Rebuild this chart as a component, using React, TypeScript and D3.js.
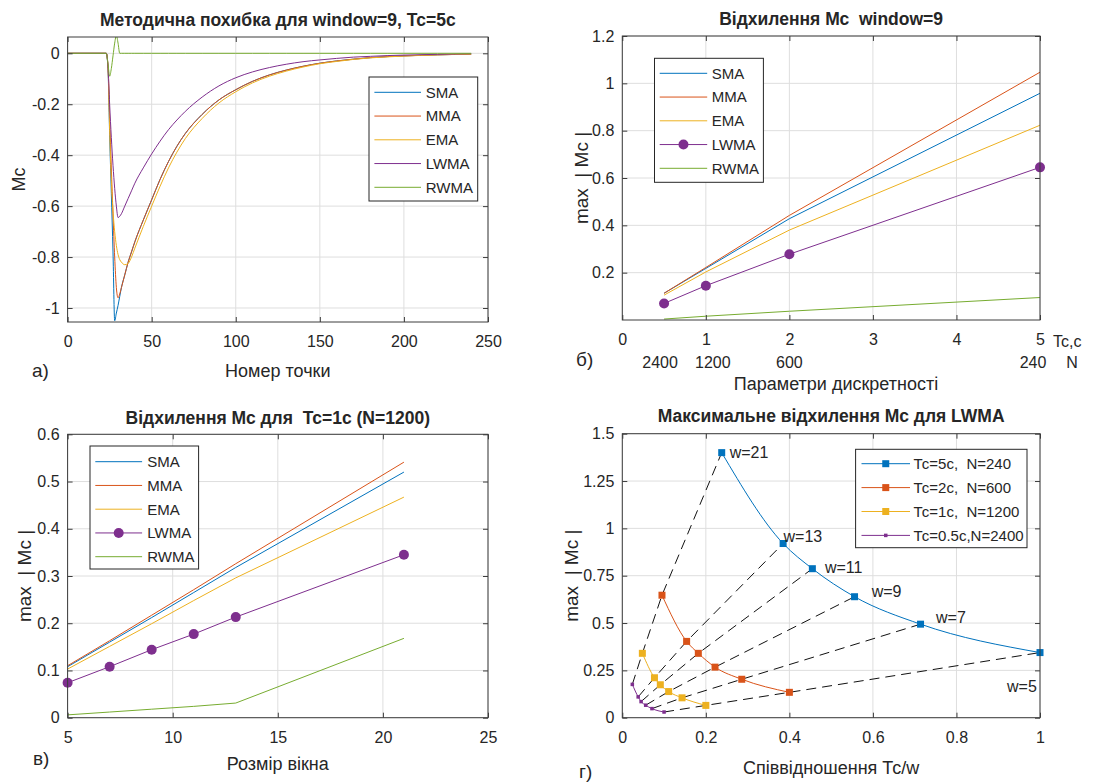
import React, { useEffect, useRef } from "react";
import * as d3 from "d3";

// ---------- a) Методична похибка для window=9, Тс=5с ----------
const aIndex = [0, 23, 24, 25, 26, 27, 28, 29, 30, 31, 32, 34, 36, 38, 40, 45, 50, 55, 60, 65, 70, 80, 90, 100, 110, 120, 130, 140, 150, 160, 170, 180, 190, 200, 220, 240];
const aSMA = [0, 0, -0.06, -0.32, -0.55, -0.78, -1.05, -1.02, -0.99, -0.955, -0.92, -0.87, -0.82, -0.78, -0.74, -0.655, -0.575, -0.495, -0.425, -0.365, -0.315, -0.24, -0.183, -0.143, -0.11, -0.085, -0.066, -0.051, -0.039, -0.03, -0.023, -0.017, -0.013, -0.01, -0.006, -0.003];
const aMMA = [0, 0, -0.05, -0.25, -0.45, -0.63, -0.8, -0.92, -0.96, -0.945, -0.92, -0.87, -0.82, -0.78, -0.74, -0.655, -0.575, -0.495, -0.425, -0.365, -0.315, -0.24, -0.183, -0.143, -0.11, -0.085, -0.066, -0.051, -0.039, -0.03, -0.023, -0.017, -0.013, -0.01, -0.006, -0.003];
const aEMA = [0, 0, -0.05, -0.3, -0.5, -0.62, -0.7, -0.755, -0.79, -0.81, -0.82, -0.83, -0.825, -0.8, -0.765, -0.68, -0.6, -0.522, -0.45, -0.388, -0.335, -0.256, -0.195, -0.151, -0.116, -0.09, -0.07, -0.054, -0.041, -0.032, -0.024, -0.018, -0.014, -0.011, -0.006, -0.004];
const aLWMA = [0, 0, -0.05, -0.2, -0.33, -0.44, -0.53, -0.6, -0.645, -0.64, -0.63, -0.6, -0.57, -0.54, -0.51, -0.45, -0.395, -0.345, -0.3, -0.262, -0.228, -0.172, -0.128, -0.096, -0.073, -0.056, -0.043, -0.033, -0.026, -0.02, -0.015, -0.012, -0.009, -0.007, -0.004, -0.002];
const aRWMA = [0, 0, -0.04, -0.09, -0.06, -0.01, 0.04, 0.07, 0.04, 0, 0, 0, 0, 0, 0, 0, 0, 0, 0, 0, 0, 0, 0, 0, 0, 0, 0, 0, 0, 0, 0, 0, 0, 0, 0, 0];
const aXTicks = [0, 50, 100, 150, 200, 250];
const aYTicks = [-1, -0.8, -0.6, -0.4, -0.2, 0];

// ---------- б) Відхилення Мс window=9 ----------
const bTc = [0.5, 1, 2, 5];
const bN = ["2400", "1200", "600", "240"];
const bSMA = [0.113, 0.218, 0.428, 0.958];
const bMMA = [0.113, 0.222, 0.442, 1.047];
const bEMA = [0.105, 0.203, 0.38, 0.823];
const bLWMA = [0.07, 0.145, 0.278, 0.645];
const bRWMA = [0.004, 0.016, 0.037, 0.095];
const bXTicks = [0, 1, 2, 3, 4, 5];
const bYTicks = [0.2, 0.4, 0.6, 0.8, 1, 1.2];

// ---------- в) Відхилення Мс для Тс=1с (N=1200) ----------
const cWin = [5, 7, 9, 11, 13, 21];
const cSMA = [0.108, 0.16, 0.212, 0.265, 0.318, 0.52];
const cMMA = [0.11, 0.163, 0.217, 0.271, 0.326, 0.541];
const cEMA = [0.103, 0.151, 0.199, 0.248, 0.296, 0.467];
const cLWMA = [0.074, 0.108, 0.144, 0.177, 0.213, 0.345];
const cRWMA = [0.006, 0.012, 0.018, 0.024, 0.031, 0.168];
const cXTicks = [5, 10, 15, 20, 25];
const cYTicks = [0, 0.1, 0.2, 0.3, 0.4, 0.5, 0.6];

// ---------- г) Максимальне відхилення Мс для LWMA ----------
const dWin = ["w=21", "w=13", "w=11", "w=9", "w=7", "w=5"];
const dX5 = [0.238, 0.385, 0.455, 0.556, 0.714, 1.0];
const dY5 = [1.4, 0.92, 0.787, 0.639, 0.494, 0.344];
const dX2 = [0.095, 0.154, 0.182, 0.222, 0.286, 0.4];
const dY2 = [0.647, 0.403, 0.34, 0.267, 0.203, 0.134];
const dX1 = [0.048, 0.077, 0.091, 0.111, 0.143, 0.2];
const dY1 = [0.34, 0.211, 0.174, 0.138, 0.105, 0.065];
const dX05 = [0.024, 0.038, 0.045, 0.056, 0.071, 0.1];
const dY05 = [0.176, 0.11, 0.085, 0.066, 0.048, 0.03];
const dLabelX = [0.257, 0.386, 0.485, 0.597, 0.751, 0.921];
const dLabelY = [1.4, 0.96, 0.796, 0.666, 0.528, 0.167];
const dXTicks = [0, 0.2, 0.4, 0.6, 0.8, 1];
const dYTicks = [0, 0.25, 0.5, 0.75, 1, 1.25, 1.5];

const FONT = "'Liberation Sans', Arial, Helvetica, sans-serif";
const COL = { sma: "#0072BD", mma: "#D95319", ema: "#EDB120", lwma: "#7E2F8E", rwma: "#77AC30" };
const AXIS = "#3c3c3c";
const GRID = "#dedede";
const TXT = "#262626";
// small horizontal nudges of the N row under panel б (px)
const bNShift = [-4, 7, 0, -7];

type Box = { left: number; top: number; right: number; bottom: number };
type Row = { label: string; color: string; marker?: string };

function grid(svg: any, id: string, box: Box, x: any, y: any, xt: number[], yt: number[]) {
  svg.select("defs").append("clipPath").attr("id", id).append("rect")
    .attr("x", box.left).attr("y", box.top)
    .attr("width", box.right - box.left).attr("height", box.bottom - box.top);
  const g = svg.append("g");
  g.selectAll(".gx").data(xt).join("line")
    .attr("x1", (d: number) => x(d)).attr("x2", (d: number) => x(d))
    .attr("y1", box.top).attr("y2", box.bottom).attr("stroke", GRID);
  g.selectAll(".gy").data(yt).join("line")
    .attr("y1", (d: number) => y(d)).attr("y2", (d: number) => y(d))
    .attr("x1", box.left).attr("x2", box.right).attr("stroke", GRID);
}

function frame(svg: any, box: Box, x: any, y: any, xt: number[], yt: number[]) {
  const g = svg.append("g").attr("color", AXIS);
  const style = (s: any) => {
    s.select(".domain").remove();
    s.selectAll("text").attr("font-size", 16).attr("font-family", FONT).attr("fill", TXT);
  };
  g.append("g").attr("transform", `translate(0,${box.bottom})`)
    .call(d3.axisBottom(x).tickValues(xt).tickSize(-5).tickPadding(14).tickFormat((d: any) => String(d))).call(style);
  g.append("g").attr("transform", `translate(0,${box.top})`)
    .call(d3.axisTop(x).tickValues(xt).tickSize(-5).tickFormat(() => "")).call(style);
  g.append("g").attr("transform", `translate(${box.left},0)`)
    .call(d3.axisLeft(y).tickValues(yt).tickSize(-5).tickPadding(8).tickFormat((d: any) => String(d))).call(style);
  g.append("g").attr("transform", `translate(${box.right},0)`)
    .call(d3.axisRight(y).tickValues(yt).tickSize(-5).tickFormat(() => "")).call(style);
  g.append("rect").attr("x", box.left).attr("y", box.top)
    .attr("width", box.right - box.left).attr("height", box.bottom - box.top)
    .attr("fill", "none").attr("stroke", AXIS);
}

function series(svg: any, clip: string, xs: number[], ys: number[], x: any, y: any, color: string, curve: any = d3.curveLinear, dash = "") {
  const line = d3.line<number>().x((_, i) => x(xs[i])).y((d) => y(d)).curve(curve);
  svg.append("path").attr("d", line(ys)).attr("fill", "none").attr("stroke", color)
    .attr("stroke-width", 1).attr("stroke-dasharray", dash || null)
    .attr("clip-path", `url(#${clip})`);
}

function markers(svg: any, xs: number[], ys: number[], x: any, y: any, color: string, kind: string) {
  const g = svg.append("g");
  xs.forEach((v, i) => marker(g, x(v), y(ys[i]), color, kind));
}

function marker(g: any, cx: number, cy: number, color: string, kind: string) {
  if (kind === "circle") {
    g.append("circle").attr("cx", cx).attr("cy", cy).attr("r", 5).attr("fill", color);
  } else {
    const s = kind === "dot" ? 3.5 : 7;
    g.append("rect").attr("x", cx - s / 2).attr("y", cy - s / 2).attr("width", s).attr("height", s).attr("fill", color);
  }
}

function legend(svg: any, x0: number, y0: number, w: number, h: number, rows: Row[], first: number, step: number, l1: number, l2: number, tx: number) {
  const g = svg.append("g");
  g.append("rect").attr("x", x0).attr("y", y0).attr("width", w).attr("height", h)
    .attr("fill", "#fff").attr("stroke", TXT);
  rows.forEach((r, i) => {
    const cy = y0 + first + i * step;
    g.append("line").attr("x1", x0 + l1).attr("x2", x0 + l2).attr("y1", cy).attr("y2", cy)
      .attr("stroke", r.color).attr("stroke-width", 1);
    if (r.marker) marker(g, x0 + (l1 + l2) / 2, cy, r.color, r.marker);
    g.append("text").attr("x", x0 + tx).attr("y", cy).attr("dy", "0.36em")
      .style("white-space", "pre")
      .attr("font-size", 15).attr("font-family", FONT).attr("fill", TXT).text(r.label);
  });
}

function label(svg: any, x: number, y: number, s: string, size: number, anchor = "middle", bold = false, rotate = false) {
  const t = svg.append("text").attr("font-family", FONT).attr("font-size", size).attr("fill", TXT)
    .style("white-space", "pre")
    .attr("text-anchor", anchor).attr("font-weight", bold ? "bold" : "normal").text(s);
  if (rotate) t.attr("transform", `translate(${x},${y}) rotate(-90)`).attr("dy", "0.35em");
  else t.attr("x", x).attr("y", y);
}

const maRows: Row[] = [
  { label: "SMA", color: COL.sma },
  { label: "MMA", color: COL.mma },
  { label: "EMA", color: COL.ema },
  { label: "LWMA", color: COL.lwma },
  { label: "RWMA", color: COL.rwma },
];

export default function App() {
  const ref = useRef<SVGSVGElement>(null);

  useEffect(() => {
    const svg = d3.select(ref.current);
    svg.selectAll("*").remove();
    svg.append("defs");
    svg.append("rect").attr("width", 1093).attr("height", 782).attr("fill", "#fff");

    // ----- a)
    const A: Box = { left: 67.6, top: 37, right: 488, bottom: 322 };
    const ax = d3.scaleLinear().domain([0, 250]).range([A.left, A.right]);
    const ay = d3.scaleLinear().domain([-1.055, 0.064]).range([A.bottom, A.top]);
    grid(svg, "clipA", A, ax, ay, aXTicks, aYTicks);
    [aSMA, aMMA, aEMA, aLWMA, aRWMA].forEach((ys, i) =>
      series(svg, "clipA", aIndex, ys, ax, ay, maRows[i].color, d3.curveMonotoneX));
    frame(svg, A, ax, ay, aXTicks, aYTicks);
    legend(svg, 369, 77, 108.7, 124, maRows, 15.3, 23.75, 5.4, 52, 56.7);
    label(svg, (A.left + A.right) / 2, 26, "Методична похибка для window=9, Тс=5с", 17.5, "middle", true);
    label(svg, (A.left + A.right) / 2, 377, "Номер точки", 18);
    label(svg, 19, (A.top + A.bottom) / 2, "Мс", 18, "middle", false, true);
    label(svg, 32, 377, "а)", 19, "start");

    // ----- б)
    const B: Box = { left: 622.3, top: 36, right: 1040, bottom: 320 };
    const bx = d3.scaleLinear().domain([0, 5]).range([B.left, B.right]);
    const by = d3.scaleLinear().domain([0, 1.2]).range([B.bottom, B.top]);
    grid(svg, "clipB", B, bx, by, bXTicks, bYTicks);
    [bSMA, bMMA, bEMA, bLWMA, bRWMA].forEach((ys, i) =>
      series(svg, "clipB", bTc, ys, bx, by, maRows[i].color));
    markers(svg, bTc, bLWMA, bx, by, COL.lwma, "circle");
    frame(svg, B, bx, by, bXTicks, bYTicks);
    const bRows = maRows.map((r) => (r.label === "LWMA" ? { ...r, marker: "circle" } : r));
    legend(svg, 654.5, 58.3, 108.9, 124, bRows, 15, 23.75, 5.2, 52.7, 57.2);
    label(svg, B.right + 13, 347, "Tc,c", 16, "start");
    bN.forEach((s, i) => label(svg, bx(bTc[i]) + bNShift[i], 368, s, 16));
    label(svg, B.right + 32, 368, "N", 16);
    label(svg, (B.left + B.right) / 2, 25, "Відхилення Мс  window=9", 17.5, "middle", true);
    label(svg, 836, 390, "Параметри дискретності", 18);
    label(svg, 581, (B.top + B.bottom) / 2, "max  | Mc |", 19, "middle", false, true);
    label(svg, 576, 366, "б)", 19, "start");

    // ----- в)
    const Cb: Box = { left: 67.6, top: 434.3, right: 488, bottom: 717.7 };
    const cx = d3.scaleLinear().domain([5, 25]).range([Cb.left, Cb.right]);
    const cy = d3.scaleLinear().domain([0, 0.6]).range([Cb.bottom, Cb.top]);
    grid(svg, "clipC", Cb, cx, cy, cXTicks, cYTicks);
    [cSMA, cMMA, cEMA, cLWMA, cRWMA].forEach((ys, i) =>
      series(svg, "clipC", cWin, ys, cx, cy, maRows[i].color));
    markers(svg, cWin, cLWMA, cx, cy, COL.lwma, "circle");
    frame(svg, Cb, cx, cy, cXTicks, cYTicks);
    legend(svg, 90, 446, 108.6, 123, bRows, 15.7, 23.75, 5.3, 52.1, 57.3);
    label(svg, (Cb.left + Cb.right) / 2, 424, "Відхилення Мс для  Тс=1с (N=1200)", 17.5, "middle", true);
    label(svg, (Cb.left + Cb.right) / 2, 770, "Розмір вікна", 18);
    label(svg, 24, (Cb.top + Cb.bottom) / 2, "max  | Mc |", 19, "middle", false, true);
    label(svg, 33, 765, "в)", 19, "start");

    // ----- г)
    const D: Box = { left: 622.3, top: 433.7, right: 1040, bottom: 717.7 };
    const dx = d3.scaleLinear().domain([0, 1]).range([D.left, D.right]);
    const dy = d3.scaleLinear().domain([0, 1.5]).range([D.bottom, D.top]);
    grid(svg, "clipD", D, dx, dy, dXTicks, dYTicks);
    // dashed lines join the same window across sampling periods
    dWin.forEach((_, i) =>
      series(svg, "clipD", [dX05[i], dX1[i], dX2[i], dX5[i]], [dY05[i], dY1[i], dY2[i], dY5[i]], dx, dy, "#111", d3.curveLinear, "10,6"));
    const tcRows: Row[] = [
      { label: "Тс=5с,  N=240", color: COL.sma, marker: "square" },
      { label: "Тс=2с,  N=600", color: COL.mma, marker: "square" },
      { label: "Тс=1с,  N=1200", color: COL.ema, marker: "square" },
      { label: "Тс=0.5с,N=2400", color: COL.lwma, marker: "dot" },
    ];
    [[dX5, dY5], [dX2, dY2], [dX1, dY1], [dX05, dY05]].forEach(([xs, ys], i) => {
      series(svg, "clipD", xs, ys, dx, dy, tcRows[i].color, d3.curveMonotoneX);
      markers(svg, xs, ys, dx, dy, tcRows[i].color, tcRows[i].marker as string);
    });
    dWin.forEach((s, i) => {
      svg.append("text").attr("x", dx(dLabelX[i])).attr("y", dy(dLabelY[i])).attr("dy", "0.35em")
        .attr("font-family", FONT).attr("font-size", 16).attr("fill", TXT).text(s);
    });
    frame(svg, D, dx, dy, dXTicks, dYTicks);
    legend(svg, 855.6, 449.3, 171.4, 98.4, tcRows, 14.4, 23.9, 5.9, 54.4, 57.9);
    label(svg, (D.left + D.right) / 2, 422, "Максимальне відхилення Мс для LWMA", 17.5, "middle", true);
    label(svg, (D.left + D.right) / 2, 774, "Співвідношення Тс/w", 18);
    label(svg, 571, (D.top + D.bottom) / 2, "max  | Mc |", 19, "middle", false, true);
    label(svg, 579, 778, "г)", 19, "start");
  }, []);

  return (
    <svg ref={ref} width={1093} height={782}
      style={{ position: "absolute", left: 0, top: 0, display: "block" }} />
  );
}
